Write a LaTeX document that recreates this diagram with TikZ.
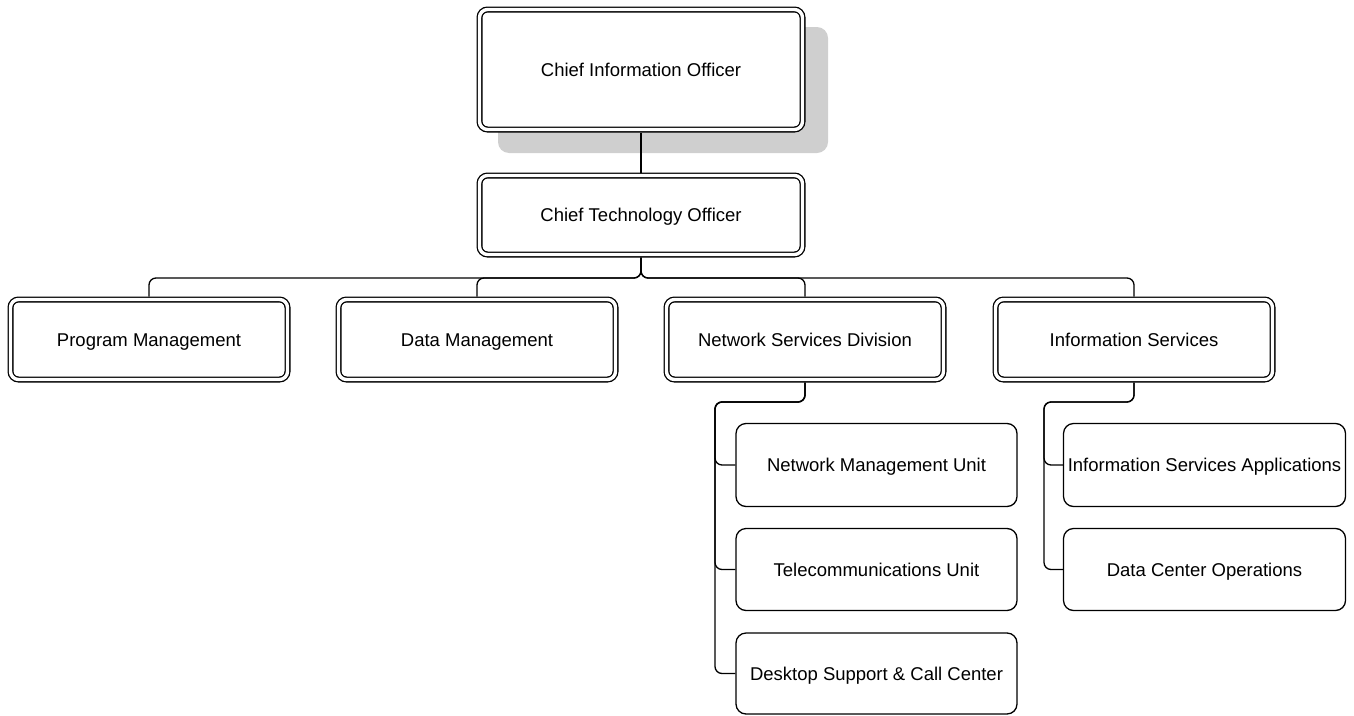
\documentclass[tikz,border=0pt]{standalone}
\usepackage{fontspec}
\setmainfont{Liberation Sans}
\begin{document}
\begin{tikzpicture}[x=1pt,y=-1pt,
  boxfont/.style={font=\fontsize{18.5}{22}\selectfont, text height=15pt, text depth=1.8pt},
  dbox/.style={boxfont, draw, double, double distance=3.4pt, line width=1.3pt, rounded corners=8pt,
    fill=white, minimum width=277pt, minimum height=80pt, inner sep=0pt, outer sep=3pt},
  sbox/.style={boxfont, draw, line width=1.3pt, rounded corners=10pt, fill=white,
    minimum width=281pt, minimum height=83pt, inner sep=0pt},
  conn/.style={draw, line width=1.3pt, rounded corners=7pt},
  shadowc/.style={fill=black!19, rounded corners=11pt}]
\useasboundingbox (0,0) rectangle (1354,715);
% shadow of CIO box
\fill[shadowc] (498,27) rectangle (828,153);
% nodes
\node[dbox, minimum width=323pt, minimum height=120pt] (cio) at (641,69.5) {Chief Information Officer};
\node[dbox, minimum width=323pt, minimum height=79pt] (cto) at (641,215) {Chief Technology Officer};
\node[dbox] (pm) at (149,339.5) {Program Management};
\node[dbox] (dm) at (477,339.5) {Data Management};
\node[dbox] (nsd) at (805,339.5) {Network Services Division};
\node[dbox] (is) at (1134,339.5) {Information Services};
\node[sbox] (nmu) at (876.5,465) {Network Management Unit};
\node[sbox, minimum height=82pt] (tu) at (876.5,569.5) {Telecommunications Unit};
\node[sbox, minimum height=81pt] (dscc) at (876.5,673.5) {Desktop Support \& Call Center};
\node[sbox, minimum width=282pt] (isa) at (1204.5,465) {Information Services Applications};
\node[sbox, minimum width=282pt, minimum height=82pt] (dco) at (1204.5,569.5) {Data Center Operations};
% bus coordinates
\coordinate (topbus) at (641,278);
\coordinate (nsdbus) at (715,402);
\coordinate (isbus) at (1044,402);
% connectors
\draw[line width=1.3pt] (cio.south) -- (cto.north);
\foreach \c in {pm,dm,nsd,is}
  \draw[conn] (cto.south) |- (topbus) -| (\c.north);
\foreach \c in {nmu,tu,dscc}
  \draw[conn] (nsd.south) |- (nsdbus) |- (\c.west);
\foreach \c in {isa,dco}
  \draw[conn] (is.south) |- (isbus) |- (\c.west);
\end{tikzpicture}
\end{document}
